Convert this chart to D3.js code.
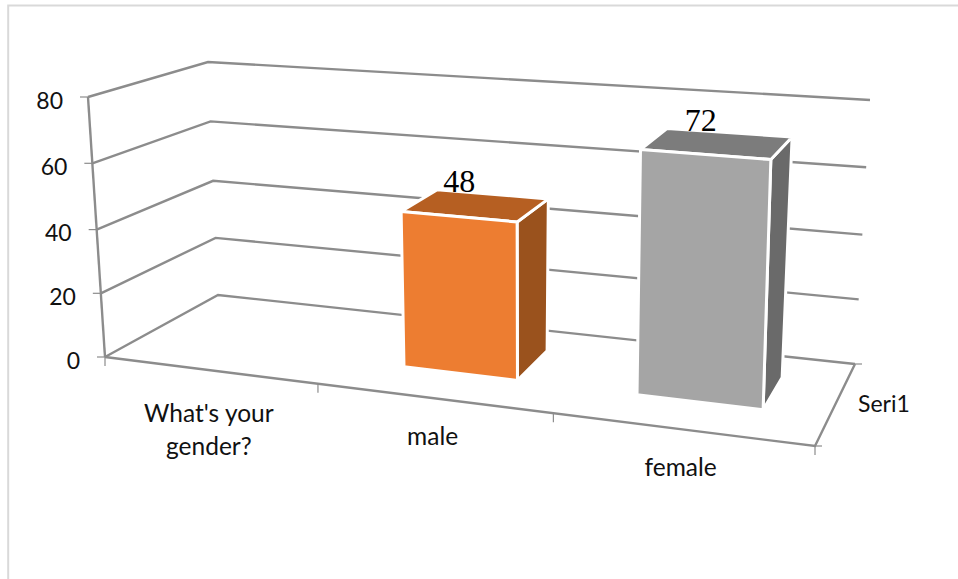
<!DOCTYPE html>
<html>
<head>
<meta charset="utf-8">
<script src="https://cdn.jsdelivr.net/npm/d3@7/dist/d3.min.js"></script>
<style>
  html, body { margin: 0; padding: 0; background: #fff; }
  svg { display: block; }
  text { font-family: Lato, "Open Sans", sans-serif; fill: #111; }
  .value { font-family: "Liberation Serif", serif; fill: #000; }
</style>
</head>
<body>
<svg id="chart" width="958" height="579"></svg>
<script>
// Survey counts by gender
const categories = ["What's your gender?", "male", "female"];
const values = [null, 48, 72];
const seriesName = "Seri1";
const valueTicks = [0, 20, 40, 60, 80];

const barColors = {
  male:   { front: "#ED7D31", top: "#B65F22", side: "#9A521D" },
  female: { front: "#A5A5A5", top: "#7C7C7C", side: "#6A6A6A" }
};

// Corners of the chart box on screen, as [left, right] pairs
const box = {
  floorFront: [[105, 357], [815, 446]],
  floorBack:  [[218, 295], [855, 364]],
  roofFront:  [[88, 97],   [824, 155]],
  roofBack:   [[208, 62],  [870, 100]]
};

const svg = d3.select("#chart");

// Foreshortening along the category axis
const k = 1.167;
const across = u => u / (u + k * (1 - u));

const band = d3.scaleBand().domain(categories).range([0, 1])
  .paddingInner(0.5).paddingOuter(0.25);

// Gridline spacing widens slightly toward the top of the box
const heightScale = d3.scaleLinear().domain(valueTicks).range([0, 0.245, 0.49, 0.745, 1]);

const mix = (a, b, t) => [a[0] + (b[0] - a[0]) * t, a[1] + (b[1] - a[1]) * t];

// u: along the categories, v: front to back, val: data value
function project(u, v, val) {
  const s = across(u), t = heightScale(val);
  const floor = mix(mix(...box.floorFront, s), mix(...box.floorBack, s), v);
  const roof = mix(mix(...box.roofFront, s), mix(...box.roofBack, s), v);
  return mix(floor, roof, t);
}

const line = d3.line();
const axisStroke = "#8C8C8C";
const maxTick = d3.max(valueTicks);

function rule(points, width = 2.4) {
  svg.append("path").attr("d", line(points)).attr("fill", "none")
    .attr("stroke", axisStroke).attr("stroke-width", width);
}

// Page frame
svg.append("path").attr("d", "M8.2,579V5.5H958").attr("fill", "none")
  .attr("stroke", "#D9D9D9").attr("stroke-width", 2);

// Gridlines along the side and back walls
valueTicks.forEach(val => {
  rule([project(0, 0, val), project(0, 1, val), project(1, 1, val)]);
});

// Floor edges and the value axis
rule([project(0, 0, 0), project(1, 0, 0), project(1, 1, 0)]);
rule([project(0, 0, 0), project(0, 0, maxTick)]);

// Tick marks
valueTicks.forEach(val => {
  const p = project(0, 0, val);
  rule([[p[0] - 8, p[1]], p], 1.2);
});
d3.range(categories.length + 1).forEach(i => {
  const p = project(i / categories.length, 0, 0);
  rule([p, [p[0], p[1] + 9]], 1.2);
});
[project(1, 0, 0), project(1, 1, 0)].forEach(p => {
  rule([p, [p[0] + 7, p[1]]], 1.2);
});

// Value axis labels
svg.selectAll(".tick-label").data(valueTicks).join("text")
  .attr("class", "tick-label")
  .attr("font-size", 23)
  .attr("text-anchor", "end")
  .attr("x", d => project(0, 0, d)[0] - 25)
  .attr("y", d => project(0, 0, d)[1] + 11.5)
  .text(d => d);

// Bars as three visible faces
const depth = [0.345, 0.75];
const bars = categories
  .map((c, i) => ({ name: c, value: values[i] }))
  .filter(d => d.value !== null);

bars.forEach(d => {
  const u0 = band(d.name), u1 = u0 + band.bandwidth();
  const [v0, v1] = depth;
  const c = barColors[d.name];
  const faces = [
    { fill: c.side, pts: [project(u1, v0, 0), project(u1, v1, 0), project(u1, v1, d.value), project(u1, v0, d.value)] },
    { fill: c.top, pts: [project(u0, v0, d.value), project(u1, v0, d.value), project(u1, v1, d.value), project(u0, v1, d.value)] },
    { fill: c.front, pts: [project(u0, v0, 0), project(u1, v0, 0), project(u1, v0, d.value), project(u0, v0, d.value)] }
  ];
  svg.append("g").selectAll("path").data(faces).join("path")
    .attr("d", f => line(f.pts) + "Z")
    .attr("fill", f => f.fill)
    .attr("stroke", "#fff")
    .attr("stroke-width", 3)
    .attr("stroke-linejoin", "round");
});

// Data labels sit over the middle of each bar's top
const labelAnchor = d =>
  project(band(d.name) + band.bandwidth() / 2, (depth[0] + depth[1]) / 2, d.value);

svg.selectAll(".value").data(bars).join("text")
  .attr("class", "value")
  .attr("font-size", 32)
  .attr("text-anchor", "middle")
  .attr("x", d => labelAnchor(d)[0] - 16)
  .attr("y", d => labelAnchor(d)[1] - 13)
  .text(d => d.value);

// Category labels, wrapped onto two lines where needed
const categoryLines = { "What's your gender?": ["What's your", "gender?"] };
const labelGroups = svg.selectAll(".cat").data(categories).join("text")
  .attr("class", "cat")
  .attr("font-size", 24.5)
  .attr("text-anchor", "middle");
labelGroups.each(function (d) {
  const p = project(band(d) + band.bandwidth() / 2, 0, 0);
  const lines = categoryLines[d] || [d];
  const top = lines.length > 1 ? 51.5 : 47;
  d3.select(this).selectAll("tspan").data(lines).join("tspan")
    .attr("x", p[0])
    .attr("y", (l, i) => p[1] + top + i * 33)
    .text(l => l);
});

// Series label beside the depth axis
const mid = project(1, 0.5, 0);
svg.append("text").attr("font-size", 23)
  .attr("x", mid[0] + 23).attr("y", mid[1] + 7)
  .text(seriesName);
</script>
</body>
</html>
